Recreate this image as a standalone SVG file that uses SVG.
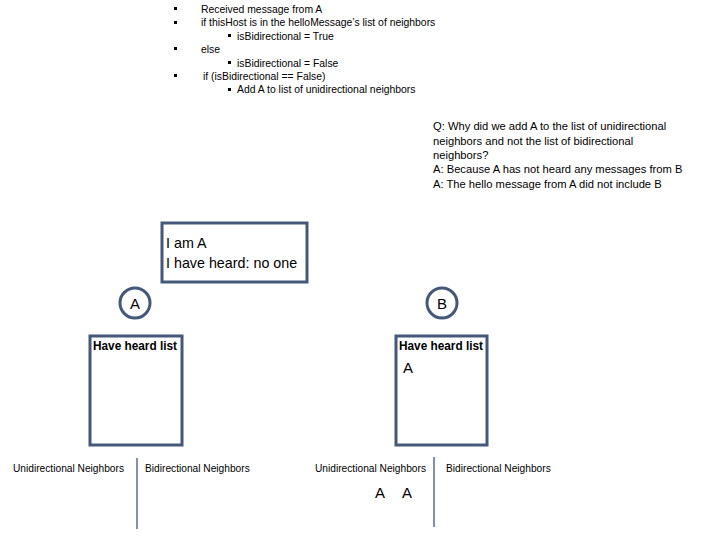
<svg xmlns="http://www.w3.org/2000/svg" width="720" height="540" viewBox="0 0 720 540">
<style>
text{font-family:"Liberation Sans",Arial,sans-serif;fill:#000}
.b{font-size:10.4px}
.q{font-size:11.2px}
.big{font-size:14.3px}
.nd{font-size:15px}
.hh{font-size:12px;font-weight:bold}
.lab{font-size:10.2px}
.box{fill:none;stroke:#44587a;stroke-width:3}
.sep{stroke:#5a6e8c;stroke-width:1.5}
.bul{fill:#000}
</style>
<rect width="720" height="540" fill="#fff"/>
<g id="notes">
<rect class="bul" x="174" y="7" width="3" height="3"/>
<text class="b" x="201" y="12.5">Received message from A</text>
<rect class="bul" x="174" y="21" width="3" height="3"/>
<text class="b" x="201" y="26">if thisHost is in the helloMessage’s list of neighbors</text>
<rect class="bul" x="228" y="34" width="3" height="3"/>
<text class="b" x="237" y="39.5">isBidirectional = True</text>
<rect class="bul" x="174" y="47" width="3" height="3"/>
<text class="b" x="201" y="53">else</text>
<rect class="bul" x="228" y="61" width="3" height="3"/>
<text class="b" x="237" y="66.5">isBidirectional = False</text>
<rect class="bul" x="174" y="74" width="3" height="3"/>
<text class="b" x="203" y="80">if (isBidirectional == False)</text>
<rect class="bul" x="228" y="88" width="3" height="3"/>
<text class="b" x="237" y="93">Add A to list of unidirectional neighbors</text>
</g>
<g id="question">
<text class="q" x="433" y="130">Q: Why did we add A to the list of unidirectional</text>
<text class="q" x="433" y="144.5">neighbors and not the list of bidirectional</text>
<text class="q" x="433" y="159">neighbors?</text>
<text class="q" x="433" y="173">A: Because A has not heard any messages from B</text>
<text class="q" x="433" y="187.5">A: The hello message from A did not include B</text>
</g>
<g id="message">
<rect class="box" x="162" y="223" width="145" height="59"/>
<text class="big" x="166" y="248">I am A</text>
<text class="big" x="166" y="268">I have heard: no one</text>
</g>
<g id="nodeA">
<circle class="box" cx="135" cy="303" r="15" stroke-width="2.5"/>
<text class="nd" x="135" y="308.5" text-anchor="middle">A</text>
</g>
<g id="nodeB">
<circle class="box" cx="442" cy="303" r="15" stroke-width="2.5"/>
<text class="nd" x="442" y="308.5" text-anchor="middle">B</text>
</g>
<g id="listA">
<rect class="box" x="90" y="336" width="92" height="109"/>
<text class="hh" x="93" y="350" textLength="84" lengthAdjust="spacingAndGlyphs">Have heard list</text>
</g>
<g id="listB">
<rect class="box" x="396" y="336" width="91" height="109"/>
<text class="hh" x="399" y="350" textLength="84" lengthAdjust="spacingAndGlyphs">Have heard list</text>
<text class="nd" x="403" y="373">A</text>
</g>
<g id="tableA">
<text class="lab" x="13" y="472">Unidirectional Neighbors</text>
<text class="lab" x="145" y="472">Bidirectional Neighbors</text>
</g>
<g id="tableB">
<text class="lab" x="315" y="472">Unidirectional Neighbors</text>
<text class="lab" x="446" y="472">Bidirectional Neighbors</text>
<text class="nd" x="375" y="498">A</text>
<text class="nd" x="402" y="498">A</text>
</g>
<g id="connectors">
<line class="sep" x1="137" y1="458" x2="137" y2="529"/>
<line class="sep" x1="434" y1="457" x2="434" y2="527"/>
</g>
</svg>
